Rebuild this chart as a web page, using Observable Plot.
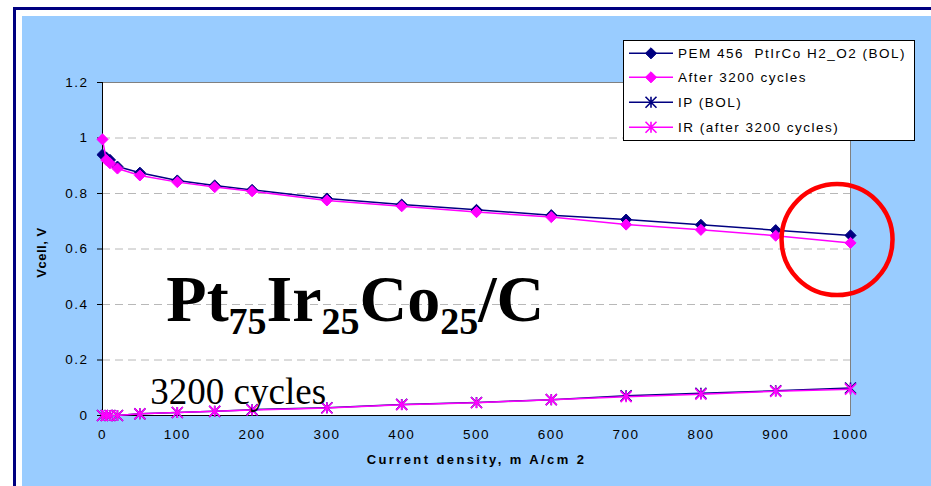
<!DOCTYPE html>
<html>
<head>
<meta charset="utf-8">
<script src="https://cdn.jsdelivr.net/npm/d3@7"></script>
<script src="https://cdn.jsdelivr.net/npm/@observablehq/plot@0.6"></script>
<style>
html, body { margin: 0; padding: 0; background: #fff; overflow: hidden; width: 931px; height: 486px; }
#border { position: absolute; left: 13px; top: 7px; width: 930px; height: 490px; border-left: 3px solid #000080; border-top: 3px solid #000080; }
#bg { position: absolute; left: 22px; top: 16px; width: 909px; height: 470px; background: #99CCFF; }
#chart { position: absolute; left: 0; top: 0; }
</style>
</head>
<body>
<div id="border"></div>
<div id="bg"></div>
<div id="chart"></div>
<script>
// ---- data ----
const currentDensity = [0, 5, 10, 20, 50, 100, 150, 200, 300, 400, 500, 600, 700, 800, 900, 1000];
const vBOL   = [0.94, 0.93, 0.921, 0.897, 0.875, 0.847, 0.829, 0.813, 0.782, 0.760, 0.741, 0.722, 0.706, 0.687, 0.668, 0.649];
const vAfter = [0.995, 0.921, 0.909, 0.890, 0.865, 0.841, 0.823, 0.808, 0.775, 0.754, 0.733, 0.715, 0.688, 0.669, 0.648, 0.622];
const irBOL   = [0, 0, 0, 0, 0.006, 0.011, 0.015, 0.021, 0.028, 0.040, 0.047, 0.057, 0.071, 0.080, 0.089, 0.099];
const irAfter = [0, 0, 0, 0, 0.006, 0.011, 0.015, 0.020, 0.027, 0.039, 0.046, 0.057, 0.068, 0.077, 0.087, 0.095];
const seriesNames = ["PEM 456  PtIrCo H2_O2 (BOL)", "After 3200 cycles", "IP (BOL)", "IR (after 3200 cycles)"];
const xTicks = [0, 100, 200, 300, 400, 500, 600, 700, 800, 900, 1000];
const yTicks = [0, 0.2, 0.4, 0.6, 0.8, 1, 1.2];
const xLabel = "Current density, m A/cm 2";
const yLabel = "Vcell, V";
const noteText = "3200 cycles";
const notePos = [64, 0.04];            // data coords of annotation baseline-left
const formulaPos = [86, 0.34];         // data coords of formula baseline-left
const circleAnno = [{x: 982, y: 0.634}];

const NAVY = "#000080", PINK = "#FF00FF";

const tbl = (ys) => currentDensity.map((x, i) => ({x, y: ys[i]}));
const starSymbol = {
  draw(ctx, size) {
    const r = Math.sqrt(size / Math.PI);
    ctx.moveTo(-r, -r); ctx.lineTo(r, r);
    ctx.moveTo(-r, r); ctx.lineTo(r, -r);
    ctx.moveTo(0, -r); ctx.lineTo(0, r);
  }
};

const chart = Plot.plot({
  width: 931, height: 486,
  marginLeft: 102, marginRight: 81, marginTop: 82, marginBottom: 71,
  style: {background: "transparent", fontFamily: "Arial, 'Liberation Sans', sans-serif", fontSize: "13.5px", color: "#000", overflow: "visible"},
  x: {domain: [0, 1000], label: null},
  y: {domain: [0, 1.2], label: null},
  marks: [
    Plot.frame({fill: "white", stroke: "#808080"}),
    Plot.gridY(yTicks.filter(d => d > 0 && d < 1.2), {stroke: "#b8b8b8", strokeOpacity: 1, strokeDasharray: "8,5"}),
    Plot.axisY(yTicks, {tickSize: 5, tickPadding: 9, tickFormat: d => String(d), label: null, stroke: "#000"}),
    Plot.axisX(xTicks, {tickSize: 0, tickPadding: 14, tickFormat: d => String(d), label: null}),
    Plot.ruleX([0], {stroke: "#000"}),
    Plot.ruleY([0], {stroke: "#000"}),
    Plot.line(tbl(vBOL), {x: "x", y: "y", stroke: NAVY, strokeWidth: 1.5}),
    Plot.dot(tbl(vBOL), {x: "x", y: "y", symbol: "diamond2", r: 5, fill: NAVY, stroke: NAVY, strokeWidth: 1}),
    Plot.line(tbl(vAfter), {x: "x", y: "y", stroke: PINK, strokeWidth: 1.5}),
    Plot.dot(tbl(vAfter), {x: "x", y: "y", symbol: "diamond2", r: 5, fill: PINK, stroke: PINK, strokeWidth: 1}),
    Plot.line(tbl(irBOL), {x: "x", y: "y", stroke: NAVY, strokeWidth: 1.5}),
    Plot.dot(tbl(irBOL), {x: "x", y: "y", symbol: starSymbol, r: 5.5, fill: "none", stroke: NAVY, strokeWidth: 1.6}),
    Plot.line(tbl(irAfter), {x: "x", y: "y", stroke: PINK, strokeWidth: 1.5}),
    Plot.dot(tbl(irAfter), {x: "x", y: "y", symbol: starSymbol, r: 5.5, fill: "none", stroke: PINK, strokeWidth: 1.6}),
    Plot.text([noteText], {x: notePos[0], y: notePos[1], text: d => d, textAnchor: "start", lineAnchor: "bottom", fontFamily: "'Times New Roman', 'Liberation Serif', serif", fontSize: 37, fill: "#000"}),
    Plot.dot(circleAnno, {x: "x", y: "y", r: 55.5, stroke: "#FF0000", strokeWidth: 4.5, fill: "none"}),
    Plot.text([yLabel], {frameAnchor: "left", dx: -61, dy: 3.5, rotate: -90, textAnchor: "middle", fontWeight: "bold", fontSize: 13, fill: "#000"}),
    Plot.text([xLabel], {frameAnchor: "bottom", dy: 48, textAnchor: "middle", fontWeight: "bold", fontSize: 13, fill: "#000"})
  ]
});

document.getElementById("chart").appendChild(chart);
const svg = d3.select(chart);
svg.selectAll("text").style("letter-spacing", "1.5px");
svg.selectAll("text").filter(function() { return this.textContent === xLabel; }).style("letter-spacing", "2.4px");
svg.selectAll("text").filter(function() { return this.textContent === yLabel; }).style("letter-spacing", "0.5px");
svg.selectAll("text").filter(function() { return this.textContent === noteText; }).style("letter-spacing", "0px");

// formula annotation
const sx = chart.scale("x"), sy = chart.scale("y");
const ft = svg.append("text")
  .attr("x", sx.apply(formulaPos[0]))
  .attr("y", sy.apply(formulaPos[1]))
  .attr("text-anchor", "start")
  .attr("font-family", "'Times New Roman', 'Liberation Serif', serif")
  .attr("font-weight", "bold")
  .attr("font-size", 66)
  .attr("fill", "#000");
const parts = [["Pt", false], ["75", true], ["Ir", false], ["25", true], ["Co", false], ["25", true], ["/C", false]];
let shifted = false;
for (const [t, sub] of parts) {
  const ts = ft.append("tspan").text(t);
  if (sub && !shifted) { ts.attr("dy", 13).attr("font-size", 38); shifted = true; }
  else if (sub) { ts.attr("font-size", 38); }
  else if (!sub && shifted) { ts.attr("dy", -13); shifted = false; }
}

// legend
const lg = svg.append("g").attr("font-family", "Arial, 'Liberation Sans', sans-serif").attr("font-size", 13.5).attr("text-anchor", "start");
lg.append("rect").attr("x", 623.5).attr("y", 40.5).attr("width", 291).attr("height", 100).attr("fill", "white").attr("stroke", "#000").attr("stroke-width", 1);
const rowY = [53.3, 77.3, 102.3, 127.3];
const colors = [NAVY, PINK, NAVY, PINK];
const syms = [d3.symbolDiamond2, d3.symbolDiamond2, starSymbol, starSymbol];
seriesNames.forEach((name, i) => {
  const y = rowY[i];
  lg.append("line").attr("x1", 629).attr("x2", 673).attr("y1", y).attr("y2", y).attr("stroke", colors[i]).attr("stroke-width", 1.5);
  const isStar = i >= 2;
  lg.append("path")
    .attr("transform", `translate(651,${y})`)
    .attr("d", d3.symbol(syms[i], isStar ? Math.PI * 5.5 * 5.5 : Math.PI * 25)())
    .attr("fill", isStar ? "none" : colors[i])
    .attr("stroke", colors[i]).attr("stroke-width", isStar ? 1.6 : 1);
  lg.append("text").attr("x", 678).attr("y", y).attr("dy", "0.35em")
    .attr("text-anchor", "start")
    .style("white-space", "pre").attr("xml:space", "preserve")
    .style("letter-spacing", "1.5px").attr("fill", "#000").text(name);
});
</script>
</body>
</html>
